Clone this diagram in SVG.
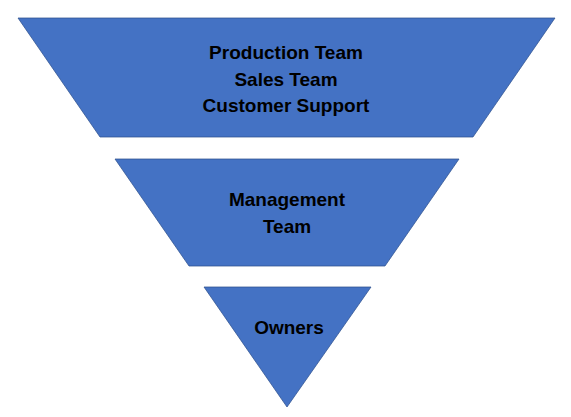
<svg xmlns="http://www.w3.org/2000/svg" width="571" height="417" viewBox="0 0 571 417">
  <style>
    .seg { fill: #4472C4; stroke: #2F528F; stroke-width: 0.75; }
    .lbl { font-family: "Liberation Sans", Arial, sans-serif; font-weight: bold; font-size: 19px; fill: #000; text-anchor: middle; }
  </style>
  <rect width="571" height="417" fill="#fff"/>
  <g id="top">
    <polygon class="seg" points="18,18 555,18 473,137 100,137"/>
    <text class="lbl" x="286" y="59">Production Team</text>
    <text class="lbl" x="286" y="86">Sales Team</text>
    <text class="lbl" x="286" y="112">Customer Support</text>
  </g>
  <g id="middle">
    <polygon class="seg" points="115,159 459,159 385,266 189,266"/>
    <text class="lbl" x="287" y="206">Management</text>
    <text class="lbl" x="287" y="233">Team</text>
  </g>
  <g id="bottom">
    <polygon class="seg" points="204,287 371,287 287,407"/>
    <text class="lbl" x="289" y="334">Owners</text>
  </g>
  <g id="connectors"/>
</svg>
